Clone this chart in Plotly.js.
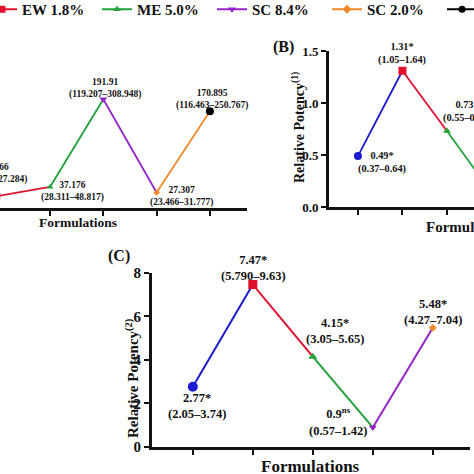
<!DOCTYPE html>
<html><head><meta charset="utf-8">
<script src="https://cdn.plot.ly/plotly-3.0.1.min.js"></script>
<style>
html,body{margin:0;padding:0;overflow:hidden;width:474px;height:474px;background:#fff;}
#chart{position:absolute;left:-150px;top:0;width:764px;height:474px;}
</style></head><body><div id="chart"></div>
<script>
// Formulations (legend order)
const formulations = ['EC 1.8%', 'EW 1.8%', 'ME 5.0%', 'SC 8.4%', 'SC 2.0%', 'TC 95%'];
const seriesColors = ['#1a1ad0', '#e0102c', '#23a23a', '#9424c8', '#f0892a', '#000000'];
const seriesSymbols = ['circle', 'square', 'triangle-up', 'triangle-down', 'diamond', 'circle'];

// Panel A: LC50 values with 95% CI
const aValues = [55.728, 20.866, 37.176, 191.91, 27.307, 170.895];
const aLabels = ['55.728', '20.866', '37.176', '191.91', '27.307', '170.895'];
const aCI = ['(41.203–75.374)', '(15.958–27.284)', '(28.311–48.817)', '(119.207–308.948)', '(23.466–31.777)', '(116.463–250.767)'];

// Panel B: Relative potency (1)
const bValues = [0.49, 1.31, 0.73, 0.14, 1.00, 0.16];
const bLabels = ['0.49*', '1.31*', '0.73*', '0.14*', '1.00', '0.16*'];
const bCI = ['(0.37–0.64)', '(1.05–1.64)', '(0.55–0.97)', '(0.09–0.23)', '', '(0.11–0.24)'];

// Panel C: Relative potency (2)
const cValues = [2.77, 7.47, 4.15, 0.9, 5.48];
const cLabels = ['2.77*', '7.47*', '4.15*', '0.9<sup>ns</sup>', '5.48*'];
const cCI = ['(2.05–3.74)', '(5.790–9.63)', '(3.05–5.65)', '(0.57–1.42)', '(4.27–7.04)'];
const cColors = ['#1a1ad0', '#e0102c', '#23a23a', '#9424c8', '#f0892a'];
const cSymbols = ['circle', 'square', 'triangle-up', 'triangle-down', 'diamond'];

const FONT = 'Liberation Serif, Times New Roman, serif';
const OFF = 150, W = 764, H = 474;
const traces = [];
const annotations = [];

function addPanel(vals, colors, symbols, sizes, lw, xa, ya) {
  for (let i = 0; i < vals.length - 1; i++) {
    traces.push({x: [i, i + 1], y: [vals[i], vals[i + 1]], mode: 'lines', xaxis: xa, yaxis: ya,
      line: {color: colors[i], width: lw}, showlegend: false, hoverinfo: 'skip'});
  }
  for (let i = 0; i < vals.length; i++) {
    traces.push({x: [i], y: [vals[i]], mode: 'markers', xaxis: xa, yaxis: ya,
      marker: {color: colors[i], symbol: symbols[i], size: sizes[i], line: {width: 0}},
      showlegend: false, hoverinfo: 'skip'});
  }
}
function addLabels(vals, labels, cis, shifts, size, xref, yref) {
  for (let i = 0; i < vals.length; i++) {
    const s = shifts[i];
    annotations.push({x: i, y: vals[i], xref: xref, yref: yref, showarrow: false,
      xanchor: 'center', yanchor: 'middle',
      text: labels[i] + (cis[i] ? '<br>' + cis[i] : ''), xshift: s[0], yshift: s[1],
      font: {family: FONT, size: size, color: '#111', weight: 'bold'}, align: 'center'});
  }
}
function pageText(text, px, py, size, angle) {
  annotations.push({xref: 'paper', yref: 'paper', x: (px + OFF) / W, y: 1 - py / H, showarrow: false,
    xanchor: 'center', yanchor: 'middle', textangle: angle || 0, text: text,
    font: {family: FONT, size: size, color: '#111', weight: 'bold'}});
}

addPanel(aValues, seriesColors, seriesSymbols, [8, 7, 6, 7, 5, 8], 1.8, 'x', 'y');
addPanel(bValues, seriesColors, seriesSymbols, [8, 8, 7, 7, 5, 8], 1.8, 'x2', 'y2');
addPanel(cValues, cColors, cSymbols, [10, 9, 8, 7, 6], 2, 'x3', 'y3');

// legend entries
for (let i = 0; i < formulations.length; i++) {
  traces.push({x: [null], y: [null], mode: 'lines+markers', name: formulations[i], xaxis: 'x', yaxis: 'y',
    line: {color: seriesColors[i], width: 2}, marker: {color: seriesColors[i], symbol: seriesSymbols[i], size: 7}});
}

addLabels(aValues, aLabels, aCI, [[0, 12], [-1, 23], [22, -5], [2, 11], [25, -4], [2, 12]], 9.5, 'x', 'y');
addLabels(bValues, bLabels, bCI, [[24, -6], [0, 17], [20, 20], [20, 14], [0, 14], [0, 14]], 10.3, 'x2', 'y2');
addLabels(cValues, cLabels, cCI, [[4, -19], [1, 17], [22, 26], [-35, 6], [0, 16]], 12.5, 'x3', 'y3');

pageText('(B)', 283, 47, 16);
pageText('(C)', 119, 256, 16);
pageText('Formulations', 78, 222, 13.5);
pageText('Formulations', 469, 227, 15);
pageText('Formulations', 311, 466, 17);
pageText('Relative Potency<sup>(1)</sup>', 298, 127, 14, -90);
pageText('Relative Potency<sup>(2)</sup>', 132, 378, 15, -90);
pageText('LC<sub>50</sub> (mg/L)', -125, 130, 14, -90);

const axBase = {showgrid: false, zeroline: false, showline: true, linecolor: '#111', linewidth: 3,
  ticks: 'outside', ticklen: 5, tickwidth: 2, tickcolor: '#111', fixedrange: true};
const tf = (s) => ({family: FONT, size: s, color: '#111', weight: 'bold'});

const layout = {
  width: W, height: H,
  margin: {l: 0, r: 0, t: 0, b: 0, autoexpand: false},
  paper_bgcolor: '#fff', plot_bgcolor: 'rgba(0,0,0,0)',
  showlegend: true,
  legend: {orientation: 'h', x: 17 / W, y: 1 + 7 / H, xanchor: 'left', yanchor: 'top', entrywidth: 70,
    font: tf(15), bgcolor: 'rgba(0,0,0,0)', itemwidth: 30},
  xaxis: Object.assign({}, axBase, {domain: [0.07696, 0.5199], range: [-0.65, 5.7], tickvals: [0, 1, 2, 3, 4, 5],
    showticklabels: false, anchor: 'y'}),
  yaxis: Object.assign({}, axBase, {domain: [0.5612, 0.9198], range: [0, 300], anchor: 'x', tickfont: tf(12)}),
  xaxis2: Object.assign({}, axBase, {domain: [0.62696, 0.99398], range: [-0.65, 5.65], tickvals: [0, 1, 2, 3, 4, 5],
    showticklabels: false, anchor: 'y2'}),
  yaxis2: Object.assign({}, axBase, {domain: [0.5633, 0.8924], range: [0, 1.5], tickvals: [0, 0.5, 1.0, 1.5],
    ticktext: ['0.0', '0.5', '1.0', '1.5'], anchor: 'x2', tickfont: tf(13)}),
  xaxis3: Object.assign({}, axBase, {domain: [0.39529, 0.81152], range: [-0.68, 4.62], tickvals: [0, 1, 2, 3, 4],
    showticklabels: false, anchor: 'y3'}),
  yaxis3: Object.assign({}, axBase, {domain: [0.0570, 0.4241], range: [0, 8], tickvals: [0, 2, 4, 6, 8],
    anchor: 'x3', tickfont: tf(15)}),
  annotations: annotations
};

Plotly.newPlot('chart', traces, layout, {displayModeBar: false, staticPlot: true});
</script></body></html>
